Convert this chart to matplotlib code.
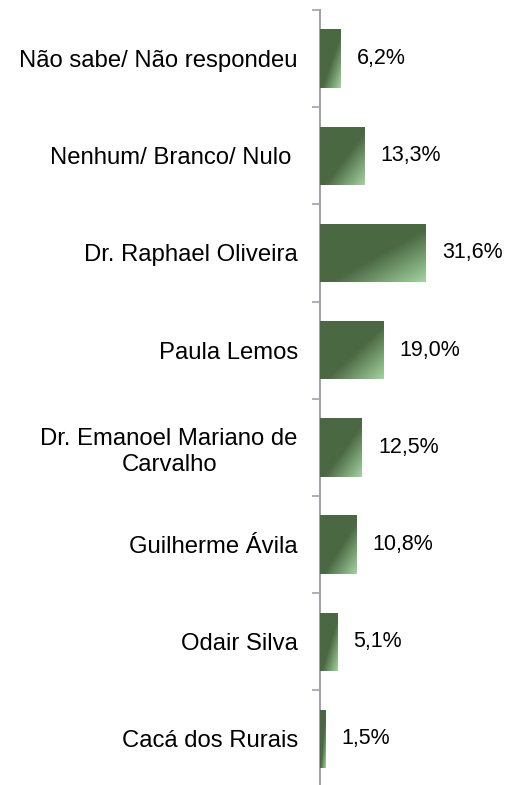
import numpy as np
import matplotlib
matplotlib.use('Agg')
import matplotlib.pyplot as plt
from matplotlib.colors import to_rgb

plt.rcParams['font.family'] = ['Liberation Sans', 'DejaVu Sans']

# Dados da pesquisa (de cima para baixo)
categorias = ['Não sabe/ Não respondeu', 'Nenhum/ Branco/ Nulo ', 'Dr. Raphael Oliveira',
              'Paula Lemos', 'Dr. Emanoel Mariano de\nCarvalho', 'Guilherme Ávila',
              'Odair Silva', 'Cacá dos Rurais']
valores = [6.2, 13.3, 31.6, 19.0, 12.5, 10.8, 5.1, 1.5]

escuro = np.array(to_rgb('#4a6842'))
claro = np.array(to_rgb('#a4d3a0'))

fig = plt.figure(figsize=(5.14, 7.85), dpi=100)
ax = fig.add_axes([320 / 514, -0.0033, (437.4 - 320) / 514, 1 - 10 / 785 + 0.0033])

y = np.arange(len(categorias))
altura = 0.6
barras = ax.barh(y, valores, height=altura, color=escuro, zorder=2)

# gradiente diagonal (canto inferior direito mais claro)
u, w = np.meshgrid(np.linspace(0, 1, 80), np.linspace(0, 1, 80))
t = np.clip(((u + w) / 2 - 0.55) / 0.45, 0, 1)
img = escuro[None, None, :] * (1 - t[..., None]) + claro[None, None, :] * t[..., None]

for b, v, yy in zip(barras, valores, y):
    im = ax.imshow(img, extent=[0, v, yy + altura / 2, yy - altura / 2],
                   aspect='auto', interpolation='bilinear', zorder=3)
    im.set_clip_path(b)
    ax.annotate(f'{v:.1f}%'.replace('.', ','), xy=(v, yy), xytext=(16, 0),
                textcoords='offset pixels', va='center', ha='left', fontsize=15.5)

ax.set_xlim(0, 35)
ax.set_ylim(len(categorias) - 0.5, -0.5)

ax.set_yticks(y)
ax.set_yticklabels(categorias, fontsize=17.2, multialignment='center', linespacing=1.25)
ax.set_yticks(np.arange(len(categorias) + 1) - 0.5, minor=True)
ax.tick_params(axis='y', which='major', length=0, pad=16)
ax.tick_params(axis='y', which='minor', length=5.5, width=1.2, color='#a0a4a8', direction='out')
ax.set_xticks([])

for lado in ['top', 'right', 'bottom']:
    ax.spines[lado].set_visible(False)
ax.spines['left'].set_color('#a0a4a8')
ax.spines['left'].set_linewidth(1.5)

plt.savefig('out.png', dpi=100)
